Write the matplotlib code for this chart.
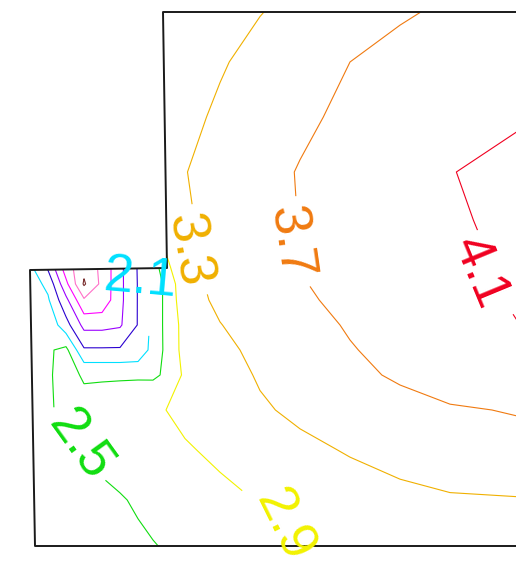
import numpy as np
import matplotlib
matplotlib.use('Agg')
import matplotlib.pyplot as plt
from matplotlib.patches import Polygon

nan = np.nan

# sample grid (image pixel coords)
x_nodes = [30, 48, 66, 84, 102, 120, 138, 153, 166, 185, 220, 260, 300, 350, 400, 450, 520]
y_nodes = [12, 62, 117, 172, 220, 268, 284, 300, 325, 350, 375, 410, 450, 500, 550]

z_values = [
    [nan, nan, nan, nan, nan, nan, nan, nan, 3.04, 3.09, 3.18, 3.29, 3.39, 3.52, 3.65, 3.77, 3.92],
    [nan, nan, nan, nan, nan, nan, nan, nan, 3.10, 3.16, 3.27, 3.40, 3.54, 3.70, 3.84, 3.95, 4.05],
    [nan, nan, nan, nan, nan, nan, nan, nan, 3.15, 3.22, 3.35, 3.49, 3.63, 3.78, 3.90, 3.99, 4.07],
    [nan, nan, nan, nan, nan, nan, nan, nan, 3.22, 3.29, 3.43, 3.58, 3.72, 3.85, 3.97, 4.09, 4.20],
    [nan, nan, nan, nan, nan, nan, nan, nan, 3.12, 3.26, 3.41, 3.56, 3.71, 3.83, 3.94, 4.05, 4.20],
    [2.20, 1.65, 0.70, 0.20, 0.60, 1.20, 1.73, 2.25, 2.80, 3.20, 3.38, 3.52, 3.69, 3.81, 3.92, 4.02, 4.15],
    [2.30, 2.00, 1.00, 0.05, 0.60, 1.20, 1.72, 2.22, 2.60, 3.20, 3.38, 3.52, 3.68, 3.80, 3.92, 4.02, 4.14],
    [2.30, 2.15, 1.40, 0.55, 0.62, 1.20, 1.72, 2.22, 2.60, 3.15, 3.37, 3.50, 3.65, 3.78, 3.90, 4.00, 4.13],
    [2.35, 2.40, 1.85, 1.18, 1.18, 1.25, 1.72, 2.22, 2.60, 3.05, 3.29, 3.45, 3.58, 3.73, 3.86, 3.97, 4.10],
    [2.40, 2.45, 2.60, 1.75, 1.75, 1.75, 1.80, 2.25, 2.58, 3.05, 3.20, 3.40, 3.53, 3.68, 3.80, 3.92, 4.04],
    [2.40, 2.45, 2.65, 2.45, 2.45, 2.45, 2.45, 2.44, 2.55, 2.98, 3.12, 3.34, 3.48, 3.63, 3.74, 3.85, 3.98],
    [2.40, 2.45, 2.60, 2.65, 2.70, 2.75, 2.80, 2.85, 2.90, 3.00, 3.12, 3.25, 3.38, 3.50, 3.60, 3.67, 3.72],
    [2.30, 2.38, 2.44, 2.49, 2.56, 2.62, 2.68, 2.73, 2.79, 2.86, 2.98, 3.10, 3.21, 3.33, 3.44, 3.53, 3.60],
    [2.25, 2.30, 2.35, 2.40, 2.45, 2.48, 2.53, 2.58, 2.63, 2.70, 2.80, 2.92, 3.02, 3.12, 3.20, 3.26, 3.28],
    [2.20, 2.25, 2.30, 2.34, 2.38, 2.42, 2.45, 2.48, 2.51, 2.58, 2.70, 2.86, 2.98, 3.06, 3.13, 3.19, 3.25],
]

levels = [0.1, 0.5, 0.9, 1.3, 1.7, 2.1, 2.5, 2.9, 3.3, 3.7, 4.1]
level_colors = ['#7a3030', '#ff70c8', '#ff00ff', '#9a00ff', '#2a00d0', '#00e0ff',
                '#10dd10', '#f2f200', '#f0b000', '#f07a10', '#f00020']
label_levels = [2.1, 2.5, 2.9, 3.3, 3.7, 4.1]

# domain outline
outline_x = [516, 163, 167, 30, 35, 516]
outline_y = [12, 12, 268, 270, 546, 546]

fig = plt.figure(figsize=(5.16, 5.64), dpi=100)
ax = fig.add_axes([0, 0, 1, 1])
ax.set_xlim(0, 516)
ax.set_ylim(564, 0)
ax.axis('off')

X, Y = np.meshgrid(x_nodes, y_nodes)
Z = np.array(z_values)

cs = ax.contour(X, Y, Z, levels=levels, colors=level_colors, linewidths=0.8)

clip = Polygon([(163, 12), (620, 12), (620, 546), (35, 546), (30, 270), (167, 268)],
               closed=True, transform=ax.transData)
cs.set_clip_path(clip)

# labels placed by hand, as in the original
spots = {2.1: (149, 290), 2.5: (80, 442), 2.9: (268, 528),
         3.3: (197, 250), 3.7: (299, 242), 4.1: (489, 274)}
centres = {'2.1': (140, 279), '2.5': (80, 445), '2.9': (284, 525),
           '3.3': (188, 250), '3.7': (290, 242), '4.1': (480, 273)}
cs.clabel(levels, manual=[spots[lev] for lev in label_levels], inline=True,
          fontsize=38, fmt='%.1f', inline_spacing=4)

for t in cs.labelTexts:
    t.set_fontfamily('Liberation Sans')
    t.set_clip_on(False)
    t.set_position(centres[t.get_text()])
    # the 2.1 label sits flat along the top edge
    if t.get_text() == '2.1':
        t.set_rotation(-5)

ax.plot(outline_x, outline_y, color='#1a1a1a', linewidth=1.4)

fig.savefig('out.png', dpi=100)
